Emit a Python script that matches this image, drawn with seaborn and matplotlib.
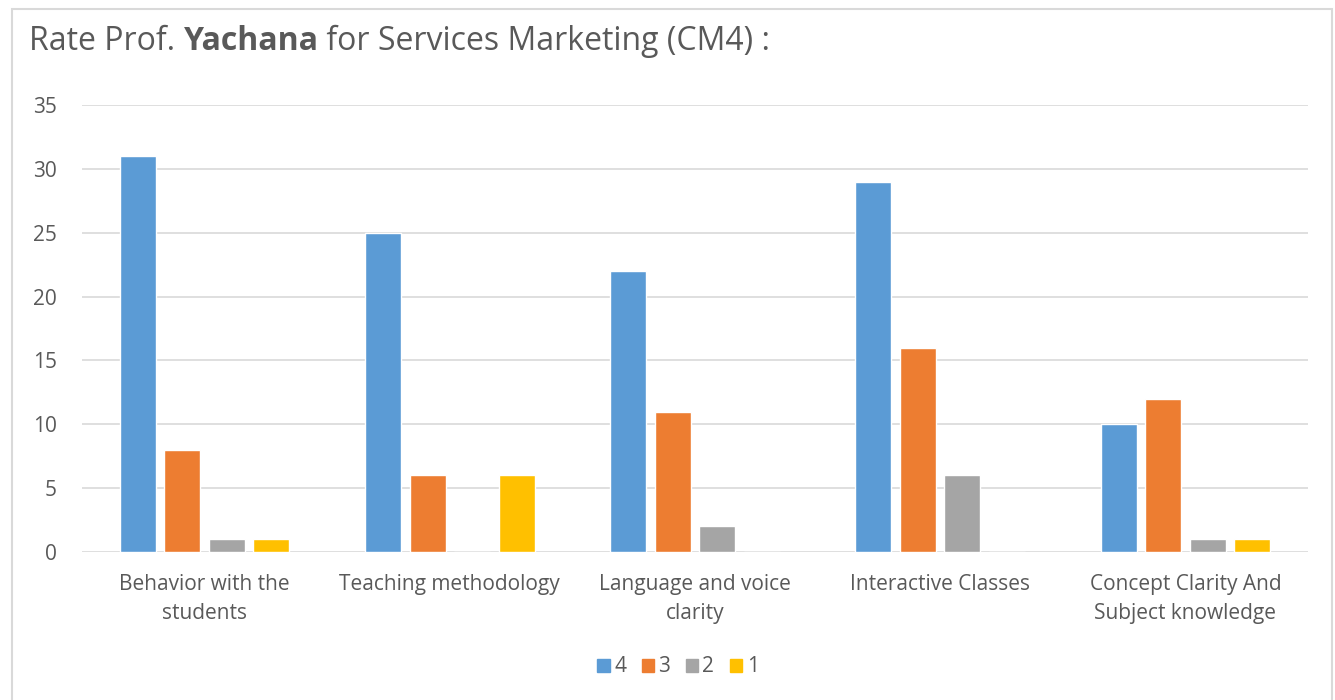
import matplotlib

matplotlib.use("Agg")
import matplotlib.pyplot as plt  # noqa: E402
import pandas as pd  # noqa: E402
import seaborn as sns  # noqa: E402
from matplotlib.patches import Rectangle  # noqa: E402

categories = [
    "Behavior with the\nstudents",
    "Teaching methodology",
    "Language and voice\nclarity",
    "Interactive Classes",
    "Concept Clarity And\nSubject knowledge",
]
ratings = ["4", "3", "2", "1"]
rating_4 = [31, 25, 22, 29, 10]
rating_3 = [8, 6, 11, 16, 12]
rating_2 = [1, 0, 2, 6, 1]
rating_1 = [1, 6, 0, 0, 1]
colors = ["#5B9BD5", "#ED7D31", "#A5A5A5", "#FFC000"]

rows = []
for rating, vals in zip(ratings, [rating_4, rating_3, rating_2, rating_1]):
    for cat, v in zip(categories, vals):
        rows.append({"category": cat, "rating": rating, "count": v})
df = pd.DataFrame(rows)

sns.set_theme(style="white")
plt.rcParams["font.family"] = ["Open Sans", "DejaVu Sans"]
text_color = "#595959"
grid_color = "#D9D9D9"

fig = plt.figure(figsize=(13.35, 7.0), dpi=100)
fig.patch.set_facecolor("white")
ax = fig.add_axes([82 / 1335, 1 - 552 / 700, 1226 / 1335, 447 / 700])

sns.barplot(
    data=df, x="category", y="count", hue="rating", hue_order=ratings,
    palette=colors, width=0.726, gap=0.19, ax=ax, saturation=1, legend=False,
)

ax.set_ylim(0, 35)
ax.set_xlim(-0.5, len(categories) - 0.5)
ax.set_yticks(range(0, 36, 5))
ax.set_xlabel("")
ax.set_ylabel("")
ax.tick_params(axis="y", colors=text_color, labelsize=15, length=0, pad=18)
ax.tick_params(axis="x", colors=text_color, labelsize=15, length=0, pad=15.5)
for lbl in ax.get_xticklabels():
    lbl.set_linespacing(1.55)
for s in ax.spines.values():
    s.set_visible(False)
ax.grid(axis="y", color=grid_color, linewidth=1.2)
ax.set_axisbelow(True)

# legend
handles = [Rectangle((0, 0), 1, 1, color=c) for c in colors]
fig.legend(
    handles, ratings, loc="center", bbox_to_anchor=(678 / 1335, 1 - 667 / 700),
    ncol=4, frameon=False, fontsize=15, handlelength=0.6, handleheight=0.6,
    handletextpad=0.2, columnspacing=0.75, labelcolor=text_color,
)

# title with bold name
fig.canvas.draw()
renderer = fig.canvas.get_renderer()
x = 29 / 1335
y = 1 - 41 / 700
parts = [("Rate Prof. ", "normal"), ("Yachana", "bold"), (" for Services Marketing (CM4) :", "normal")]
for txt, weight in parts:
    t = fig.text(x, y, txt, fontsize=23, fontweight=weight, color=text_color, va="center", ha="left")
    bb = t.get_window_extent(renderer=renderer)
    x += bb.width / fig.bbox.width

# chart frame
fig.patches.append(Rectangle(
    (12 / 1335, -0.05), 1320 / 1335, (1 - 9 / 700) + 0.05,
    transform=fig.transFigure, fill=False, edgecolor=grid_color, linewidth=1.5,
))

fig.savefig("out.png", dpi=100, facecolor="white")
